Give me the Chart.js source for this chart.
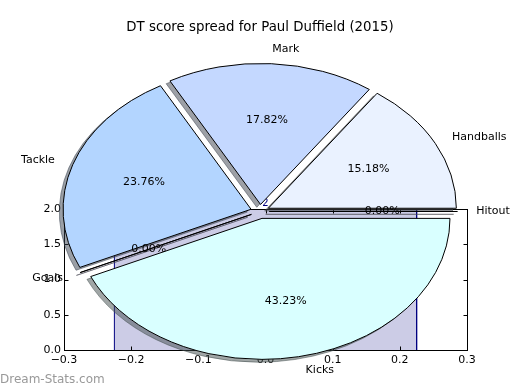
<!DOCTYPE html>
<html>
<head>
<meta charset="utf-8">
<script src="https://cdn.jsdelivr.net/npm/chart.js@4.4.0/dist/chart.umd.min.js"></script>
<style>
  body { margin: 0; background: #fff; }
  #wrap { position: relative; width: 520px; height: 390px; }
  #wrap canvas { position: absolute; left: 0; top: 0; }
  #mark { position: absolute; left: 0; top: 372px; font: 12px 'DejaVu Sans'; color: #999; }
</style>
</head>
<body>
<div id="wrap">
  <canvas id="bars" width="520" height="390"></canvas>
  <canvas id="pie" width="520" height="390"></canvas>
  <div id="mark">Dream-Stats.com</div>
</div>
<script>
// pie slices, in drawing order (clockwise from 3 o'clock)
var sliceLabels = ['Kicks', 'Goals', 'Tackle', 'Mark', 'Handballs', 'Hitout'];
var sliceValues = [131, 0, 72, 54, 46, 0];
var sliceColors = ['#d9ffff', '#dcdcff', '#b3d5ff', '#c4d8ff', '#eaf2ff', '#f0f0ff'];

// the bar behind the pie
var barEdges = [-0.225, 0.225];
var barHeights = [2];

var xTicks = [-0.3, -0.2, -0.1, 0, 0.1, 0.2, 0.3];
var yTicks = [0, 0.5, 1, 1.5, 2];

var EXPLODE = 0.05, SQUASH = 0.75, SHADOW = 0.02;
var FONT = 'DejaVu Sans';

function fmt(v) {
  var s = (Math.abs(v) < 1e-9 ? 0 : v).toFixed(1);
  return s.replace('-', '\u2212');
}

// ---- bar axes ----
var tickPlugin = {
  id: 'frameTicks',
  afterDatasetsDraw: function(chart) {
    var ctx = chart.ctx, xs = chart.scales.x, ys = chart.scales.y;
    ctx.save();
    ctx.fillStyle = '#000080';
    ctx.font = '10px ' + FONT;
    ctx.textAlign = 'center';
    ctx.textBaseline = 'bottom';
    ctx.fillText(String(barHeights[0]), xs.getPixelForValue((barEdges[0] + barEdges[1]) / 2), ys.getPixelForValue(barHeights[0]) - 1);
    ctx.restore();
  },
  afterDraw: function(chart) {
    var ctx = chart.ctx, a = chart.chartArea, xs = chart.scales.x, ys = chart.scales.y;
    var L = Math.round(a.left) + 0.5, R = Math.round(a.right) + 0.5;
    var T = Math.round(a.top) + 0.5, B = Math.round(a.bottom) + 0.5;
    ctx.save();
    ctx.strokeStyle = '#000';
    ctx.lineWidth = 1;
    ctx.beginPath();
    xTicks.forEach(function(v) {
      var p = Math.round(xs.getPixelForValue(v)) + 0.5;
      ctx.moveTo(p, B); ctx.lineTo(p, B - 4);
      ctx.moveTo(p, T); ctx.lineTo(p, T + 4);
    });
    yTicks.forEach(function(v) {
      var p = Math.round(ys.getPixelForValue(v)) + 0.5;
      ctx.moveTo(L, p); ctx.lineTo(L + 4, p);
      ctx.moveTo(R, p); ctx.lineTo(R - 4, p);
    });
    ctx.stroke();
    ctx.strokeRect(L, T, R - L, B - T);
    ctx.restore();
  }
};

var barPts = [
  {x: barEdges[0], y: 0}, {x: barEdges[0], y: barHeights[0]},
  {x: barEdges[1], y: barHeights[0]}, {x: barEdges[1], y: 0}
];

new Chart(document.getElementById('bars'), {
  type: 'scatter',
  data: {
    datasets: [{
      data: barPts,
      showLine: true,
      fill: 'origin',
      tension: 0,
      borderColor: '#000080',
      borderWidth: 1,
      backgroundColor: 'rgba(0,0,128,0.2)',
      pointRadius: 0
    }]
  },
  options: {
    responsive: false,
    animation: false,
    layout: { padding: { left: 0, right: 53, top: 209, bottom: 0 } },
    plugins: { legend: { display: false }, tooltip: { enabled: false } },
    scales: {
      x: {
        type: 'linear', min: -0.3, max: 0.3,
        afterBuildTicks: function(s) { s.ticks = xTicks.map(function(v) { return {value: v}; }); },
        afterFit: function(s) { s.height = 40; },
        grid: { display: false, drawTicks: false },
        border: { display: false },
        ticks: { color: '#000', font: { family: FONT, size: 11 }, padding: 4, maxRotation: 0,
                 callback: function(v) { return fmt(v); } }
      },
      y: {
        type: 'linear', min: 0, max: 2,
        afterBuildTicks: function(s) { s.ticks = yTicks.map(function(v) { return {value: v}; }); },
        afterFit: function(s) { s.width = 64; },
        grid: { display: false, drawTicks: false },
        border: { display: false },
        ticks: { color: '#000', font: { family: FONT, size: 11 }, padding: 3,
                 callback: function(v) { return fmt(v); } }
      }
    }
  },
  plugins: [tickPlugin]
});

// ---- exploded, squashed pie with shadows ----
function shade(hex) {
  var n = parseInt(hex.slice(1), 16);
  var r = ((n >> 16) & 255) * 0.3, g = ((n >> 8) & 255) * 0.3, b = (n & 255) * 0.3;
  return 'rgba(' + Math.round(r) + ',' + Math.round(g) + ',' + Math.round(b) + ',0.5)';
}

function wedgePath(ctx, arc, sx, sy) {
  var r = arc.outerRadius;
  var mid = (arc.startAngle + arc.endAngle) / 2;
  var cx = Math.cos(mid) * EXPLODE * r + sx * r;
  var cy = Math.sin(mid) * EXPLODE * r + sy * r;
  ctx.save();
  ctx.translate(arc.x, arc.y);
  ctx.scale(1, SQUASH);
  ctx.beginPath();
  ctx.moveTo(cx, cy);
  ctx.arc(cx, cy, r, arc.startAngle, arc.endAngle);
  ctx.closePath();
  ctx.restore();
}

var piePlugin = {
  id: 'mplPie',
  beforeDatasetsDraw: function(chart) {
    var ctx = chart.ctx;
    var arcs = chart.getDatasetMeta(0).data;
    var total = sliceValues.reduce(function(a, b) { return a + b; }, 0);
    ctx.save();
    ctx.lineWidth = 1;
    ctx.lineJoin = 'miter';
    arcs.forEach(function(arc, i) {
      wedgePath(ctx, arc, -SHADOW, SHADOW);
      ctx.fillStyle = shade(sliceColors[i]);
      ctx.strokeStyle = shade(sliceColors[i]);
      ctx.fill();
      ctx.stroke();
    });
    arcs.forEach(function(arc, i) {
      wedgePath(ctx, arc, 0, 0);
      ctx.fillStyle = sliceColors[i];
      ctx.strokeStyle = '#000';
      ctx.fill();
      ctx.stroke();
    });
    ctx.fillStyle = '#000';
    ctx.font = '11px ' + FONT;
    ctx.textBaseline = 'middle';
    arcs.forEach(function(arc, i) {
      var r = arc.outerRadius;
      var mid = (arc.startAngle + arc.endAngle) / 2;
      var c = Math.cos(mid), s = Math.sin(mid);
      var d = EXPLODE + 0.6;
      ctx.textAlign = 'center';
      ctx.fillText((sliceValues[i] / total * 100).toFixed(2) + '%', arc.x + c * d * r, arc.y + s * d * r * SQUASH);
      d = EXPLODE + 1.1;
      ctx.textAlign = c >= -1e-9 ? 'left' : 'right';
      ctx.fillText(sliceLabels[i], arc.x + c * d * r, arc.y + s * d * r * SQUASH);
    });
    ctx.restore();
    return false;
  }
};

new Chart(document.getElementById('pie'), {
  type: 'pie',
  data: {
    labels: sliceLabels,
    datasets: [{ data: sliceValues, backgroundColor: sliceColors, borderWidth: 0 }]
  },
  options: {
    responsive: false,
    animation: false,
    rotation: 90,
    radius: 188,
    layout: { padding: { left: 0, right: 0, top: 0, bottom: 3 } },
    plugins: {
      legend: { display: false },
      tooltip: { enabled: false },
      title: {
        display: true,
        text: 'DT score spread for Paul Duffield (2015)',
        color: '#000',
        font: { family: FONT, size: 13.33, weight: 'normal', lineHeight: 1.2 },
        padding: { top: 20, bottom: 0 }
      }
    }
  },
  plugins: [piePlugin]
});
</script>
</body>
</html>
